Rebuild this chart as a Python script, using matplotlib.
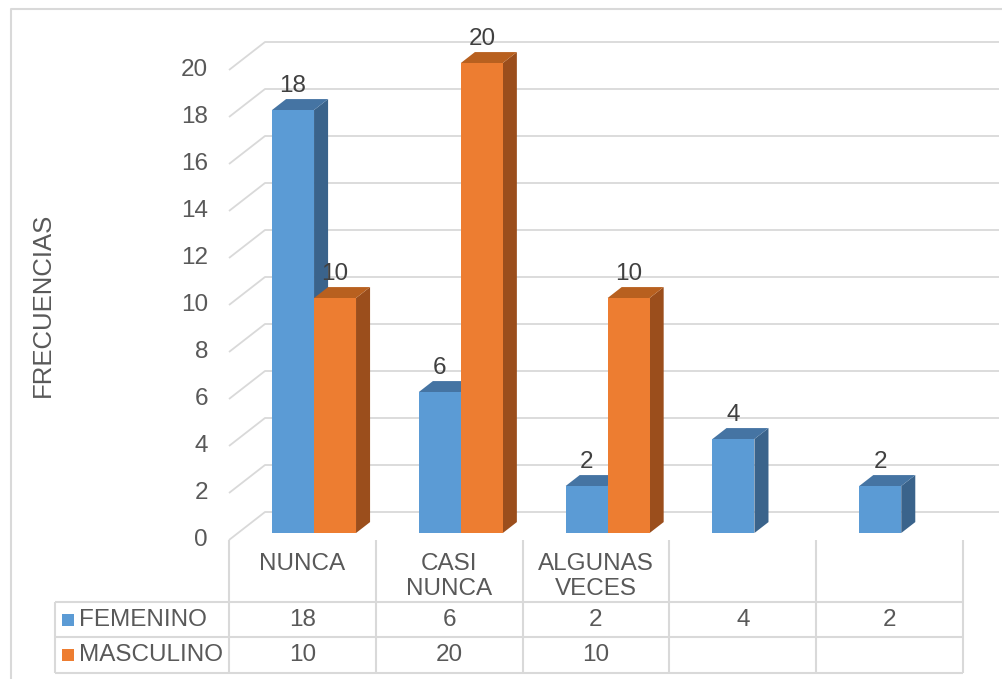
import matplotlib
matplotlib.use("Agg")
import matplotlib.pyplot as plt
from matplotlib.patches import Polygon, Rectangle
import matplotlib.transforms as mtransforms

# ---- data ----
categories = ["NUNCA", "CASI\nNUNCA", "ALGUNAS\nVECES", "", ""]
series_names = ["FEMENINO", "MASCULINO"]
femenino = [18, 6, 2, 4, 2]
masculino = [10, 20, 10, None, None]
y_ticks = list(range(0, 21, 2))
y_label = "FRECUENCIAS"

# ---- style ----
FONT = "Liberation Sans"
FS = 17.5
TXT = "#595959"
GRID = "#D9D9D9"
face_colors = ["#5B9BD5", "#ED7D31"]
top_colors = ["#4574A3", "#B8601F"]
side_colors = ["#3A638B", "#9B4E1C"]

W, H = 1003, 679
fig = plt.figure(figsize=(W / 100, H / 100), dpi=100)
# pixel coordinates measured from the top-left corner
px = mtransforms.Affine2D().scale(1 / W, -1 / H).translate(0, 1) + fig.transFigure

# front plane of the plot area
X0, X1, Y0, Y1 = 229, 963, 540, 70
n = len(categories)
ax = fig.add_axes([X0 / W, (H - Y0) / H, (X1 - X0) / W, (Y0 - Y1) / H])
ax.set_xlim(0, n)
ax.set_ylim(0, 20)
ax.axis("off")

col_px = (X1 - X0) / n
unit_px = (Y0 - Y1) / 20
DX = 36 / col_px      # depth offset along x (data units)
DY = 28 / unit_px     # depth offset along y (data units)


def proj(x, v, d):
    """Oblique projection of a point at depth fraction d."""
    return (x + d * DX, v + d * DY)


# side wall diagonals and back wall gridlines
for v in y_ticks:
    xa, ya = proj(0, v, 0)
    xb, yb = proj(0, v, 1)
    xc, yc = proj(n, v, 1)
    ax.plot([xa, xb, xc], [ya, yb, yc], color=GRID, lw=1.3,
            clip_on=False, zorder=1, solid_capstyle="butt")

# y tick labels
ytr = mtransforms.blended_transform_factory(px, ax.transData)
for v in y_ticks:
    ax.text(208, v, str(v), transform=ytr, ha="right", va="center",
            fontsize=FS, color=TXT, family=FONT)

fig.text(43 / W, 1 - 305 / H, y_label, rotation=90, ha="center", va="center",
         fontsize=18.5, color=TXT, family=FONT)

# 3D columns
bar_w = 0.286
offsets = [0.232, 0.518]
d1, d2 = 0.25, 0.64
z = 3.0
for i in range(n):
    for s, values in enumerate([femenino, masculino]):
        v = values[i]
        if v is None:
            continue
        x0 = i + offsets[s]
        fx, fy = proj(x0, 0, d1)
        front = Rectangle((fx, fy), bar_w, v, facecolor=face_colors[s],
                          edgecolor="none", clip_on=False, zorder=z)
        top = Polygon([proj(x0, v, d1), proj(x0 + bar_w, v, d1),
                       proj(x0 + bar_w, v, d2), proj(x0, v, d2)],
                      closed=True, facecolor=top_colors[s], edgecolor="none",
                      clip_on=False, zorder=z)
        side = Polygon([proj(x0 + bar_w, 0, d1), proj(x0 + bar_w, 0, d2),
                        proj(x0 + bar_w, v, d2), proj(x0 + bar_w, v, d1)],
                       closed=True, facecolor=side_colors[s], edgecolor="none",
                       clip_on=False, zorder=z)
        for p in (side, top, front):
            ax.add_patch(p)
        z += 0.01
        lx, ly = proj(x0 + bar_w / 2, v, d1)
        ax.annotate(str(v), xy=(lx, ly), xytext=(0, 17.6),
                    textcoords="offset points", ha="center", va="center",
                    fontsize=FS, color="#404040", family=FONT,
                    annotation_clip=False, zorder=10)

# ---- data table ----
ctr = mtransforms.blended_transform_factory(ax.transData, px)
row_y = [602, 637, 673]
col_edges = [X0 + col_px * k for k in range(n + 1)]
LEFT = 55

line_kw = dict(color=GRID, lw=1.5, solid_capstyle="butt")
for xe in col_edges:
    fig.add_artist(plt.Line2D([xe, xe], [540, row_y[-1]], transform=px, **line_kw))
fig.add_artist(plt.Line2D([LEFT, LEFT], [row_y[0], row_y[-1]], transform=px, **line_kw))
for yr in row_y:
    fig.add_artist(plt.Line2D([LEFT, X1], [yr, yr], transform=px, **line_kw))

for i, c in enumerate(categories):
    if c:
        ax.text(i + 0.5, 553, c, transform=ctr, ha="center", va="top",
                fontsize=FS, color=TXT, family=FONT, linespacing=1.2)

for r, (name, values) in enumerate(zip(series_names, [femenino, masculino])):
    yc = (row_y[r] + row_y[r + 1]) / 2
    fig.add_artist(Rectangle((62, yc - 6), 12, 12, transform=px,
                             facecolor=face_colors[r], edgecolor="none"))
    fig.text(79, yc, name, transform=px, ha="left", va="center",
             fontsize=FS, color=TXT, family=FONT)
    for i, v in enumerate(values):
        if v is not None:
            ax.text(i + 0.5, yc, str(v), transform=ctr, ha="center",
                    va="center", fontsize=FS, color=TXT, family=FONT)

# chart frame
fig.add_artist(plt.Line2D([11, 11, W], [H, 9, 9], transform=px, color=GRID, lw=1.5))

fig.savefig("out.png", dpi=100)
